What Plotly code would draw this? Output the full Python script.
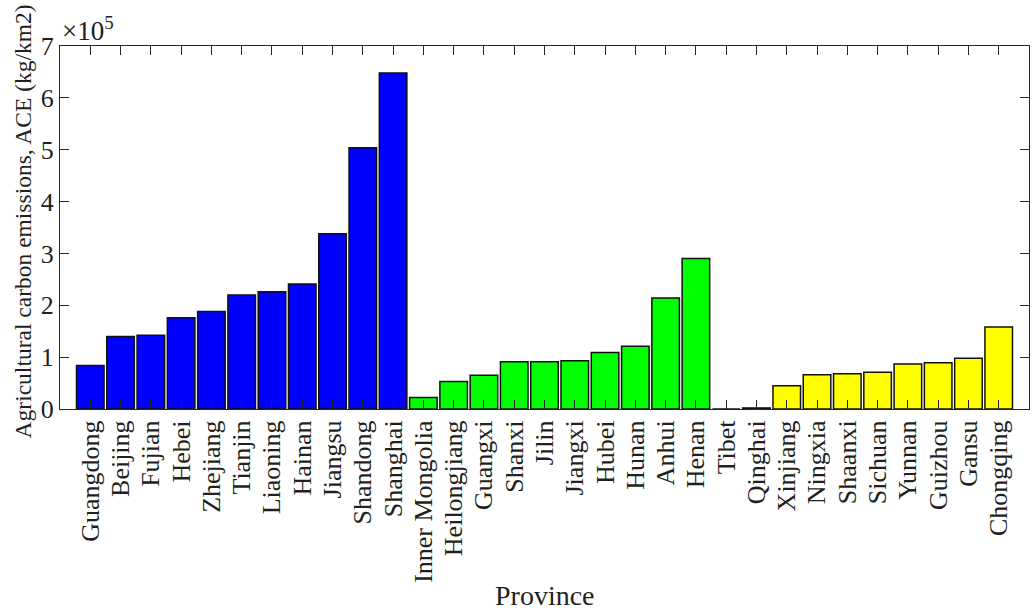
import plotly.graph_objects as go

provinces = ["Guangdong", "Beijing", "Fujian", "Hebei", "Zhejiang", "Tianjin", "Liaoning",
             "Hainan", "Jiangsu", "Shandong", "Shanghai",
             "Inner Mongolia", "Heilongjiang", "Guangxi", "Shanxi", "Jilin", "Jiangxi",
             "Hubei", "Hunan", "Anhui", "Henan",
             "Tibet", "Qinghai", "Xinjiang", "Ningxia", "Shaanxi", "Sichuan", "Yunnan",
             "Guizhou", "Gansu", "Chongqing"]

# ACE in kg/km2
ace = [84000, 140000, 142000, 176000, 188000, 220000, 226000, 241000, 338000, 504000, 648000,
       22000, 53000, 65000, 91000, 91000, 93000, 109000, 121000, 214000, 290000,
       0, 2000, 45000, 66000, 68000, 71000, 87000, 89000, 98000, 158000]

region = ["East"] * 11 + ["Central"] * 10 + ["West"] * 10
region_colors = {"East": "#0000FF", "Central": "#00FF00", "West": "#FFFF00"}

y_ticks = [0, 1, 2, 3, 4, 5, 6, 7]
scale = 1e5

FONT = "Liberation Serif"
TXT = "#231f20"
LINE = "#262626"

fig = go.Figure()
fig.add_trace(go.Bar(
    x=provinces, y=ace,
    marker=dict(color=[region_colors[r] for r in region],
                line=dict(color="#111111", width=1.5)),
    showlegend=False,
))

fig.update_layout(
    width=1035, height=612,
    margin=dict(l=59.5, r=5.5, t=45.5, b=203.3),
    paper_bgcolor="white", plot_bgcolor="white",
    bargap=0.09,
    font=dict(family=FONT, color=TXT, size=25),
)
fig.update_xaxes(
    type="category", range=[-1, 31],
    tickmode="array", tickvals=provinces, ticktext=provinces,
    showline=True, linecolor=LINE, linewidth=1, mirror="ticks",
    ticks="inside", ticklen=9, tickcolor=LINE, tickwidth=1,
    tickangle=-90, tickfont=dict(family=FONT, size=26, color=TXT),
    showgrid=False, zeroline=False,
)
fig.update_yaxes(
    range=[0, 7 * scale],
    tickvals=[v * scale for v in y_ticks], ticktext=[str(v) for v in y_ticks],
    showline=True, linecolor=LINE, linewidth=1, mirror="ticks",
    ticks="inside", ticklen=9, tickcolor=LINE, tickwidth=1,
    tickfont=dict(family=FONT, size=26, color=TXT),
    showgrid=False, zeroline=False,
)
# axis titles
fig.add_annotation(
    text="Agricultural carbon emissions, ACE (kg/km2)", textangle=-90,
    xref="paper", yref="paper", x=0, y=0.5154, xanchor="center", yanchor="middle",
    xshift=-37.5, showarrow=False, font=dict(family=FONT, size=23.5, color=TXT),
)
fig.add_annotation(
    text="Province", xref="paper", yref="paper", x=0.5, y=0,
    xanchor="center", yanchor="middle", yshift=-186, showarrow=False,
    font=dict(family=FONT, size=28, color=TXT),
)
fig.add_annotation(
    text="×10<sup>5</sup>", xref="paper", yref="paper", x=0, y=1,
    xanchor="left", yanchor="bottom", showarrow=False,
    font=dict(family=FONT, size=27, color=TXT), xshift=0, yshift=-2,
)

fig.write_html("out.html")
